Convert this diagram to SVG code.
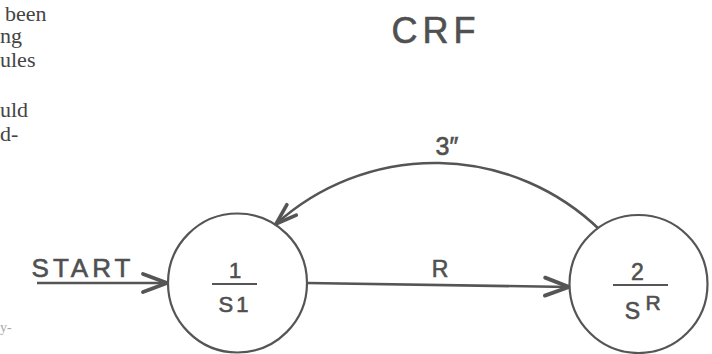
<svg xmlns="http://www.w3.org/2000/svg" width="712" height="354" viewBox="0 0 712 354">
<style>
.bg{fill:#ffffff}
.state{fill:#ffffff;stroke:#555555;stroke-width:2.2}
.bar{stroke:#555555;stroke-width:2.2}
.lbl{font-family:"Liberation Sans",Arial,sans-serif;fill:#505050;stroke:#505050;stroke-width:0.6}
.page{font-family:"Liberation Serif","Times New Roman",serif;font-size:22px;fill:#444444}
.edge{fill:none;stroke:#555555;stroke-width:2.6}
</style>
<defs>
<marker id="chev" markerUnits="userSpaceOnUse" viewBox="-30 -14 34 28" refX="0" refY="0" markerWidth="34" markerHeight="28" orient="auto" overflow="visible">
<path d="M-24,-9 L0,0 L-24,9" fill="none" stroke="#555555" stroke-width="3.8" stroke-linejoin="miter" stroke-linecap="round"/>
</marker>
<marker id="chevs" markerUnits="userSpaceOnUse" viewBox="-30 -14 34 28" refX="0" refY="0" markerWidth="34" markerHeight="28" orient="auto" overflow="visible">
<path d="M-21,-7 L0,0 L-21,7" fill="none" stroke="#555555" stroke-width="3.6" stroke-linejoin="miter" stroke-linecap="round"/>
</marker>
</defs>
<rect class="bg" x="0" y="0" width="712" height="354"/>
<g id="page-text">
<text class="page" x="5" y="21">been</text>
<text class="page" x="0" y="43">ng</text>
<text class="page" x="0" y="67">ules</text>
<text class="page" x="0" y="117">uld</text>
<text class="page" x="0" y="141">d-</text>
<text class="page" x="0" y="332" style="font-size:14px;fill:#aaaaaa">y-</text>
</g>
<g id="title">
<text class="lbl" x="436" y="43" text-anchor="middle" style="font-size:36px;letter-spacing:5px">CRF</text>
</g>
<g id="connectors">
<line class="edge" x1="37" y1="283" x2="167" y2="283" marker-end="url(#chev)"/>
<text class="lbl" x="83" y="277" text-anchor="middle" style="font-size:26px;letter-spacing:4px">START</text>
<line class="edge" x1="307" y1="283" x2="569" y2="287" marker-end="url(#chev)"/>
<text class="lbl" x="440" y="277" text-anchor="middle" style="font-size:23px">R</text>
<path class="edge" d="M600,230 A237,237 0 0 0 276,224" marker-end="url(#chevs)"/>
<text class="lbl" x="447" y="155" text-anchor="middle" style="font-size:25px">3″</text>
</g>
<g id="state-1">
<circle class="state" cx="237.5" cy="283" r="69.5"/>
<text class="lbl" x="235" y="278" text-anchor="middle" style="font-size:22px">1</text>
<line class="bar" x1="212" y1="284" x2="257" y2="284"/>
<text class="lbl" x="235" y="312" text-anchor="middle" style="font-size:22px;letter-spacing:3px">S1</text>
</g>
<g id="state-2">
<circle class="state" cx="638.5" cy="284" r="69"/>
<text class="lbl" x="637.5" y="280" text-anchor="middle" style="font-size:23px">2</text>
<line class="bar" x1="613" y1="285" x2="668" y2="285"/>
<text class="lbl" x="632.5" y="319" text-anchor="middle" style="font-size:23px">S</text>
<text class="lbl" x="653" y="310" text-anchor="middle" style="font-size:21px">R</text>
</g>
</svg>
